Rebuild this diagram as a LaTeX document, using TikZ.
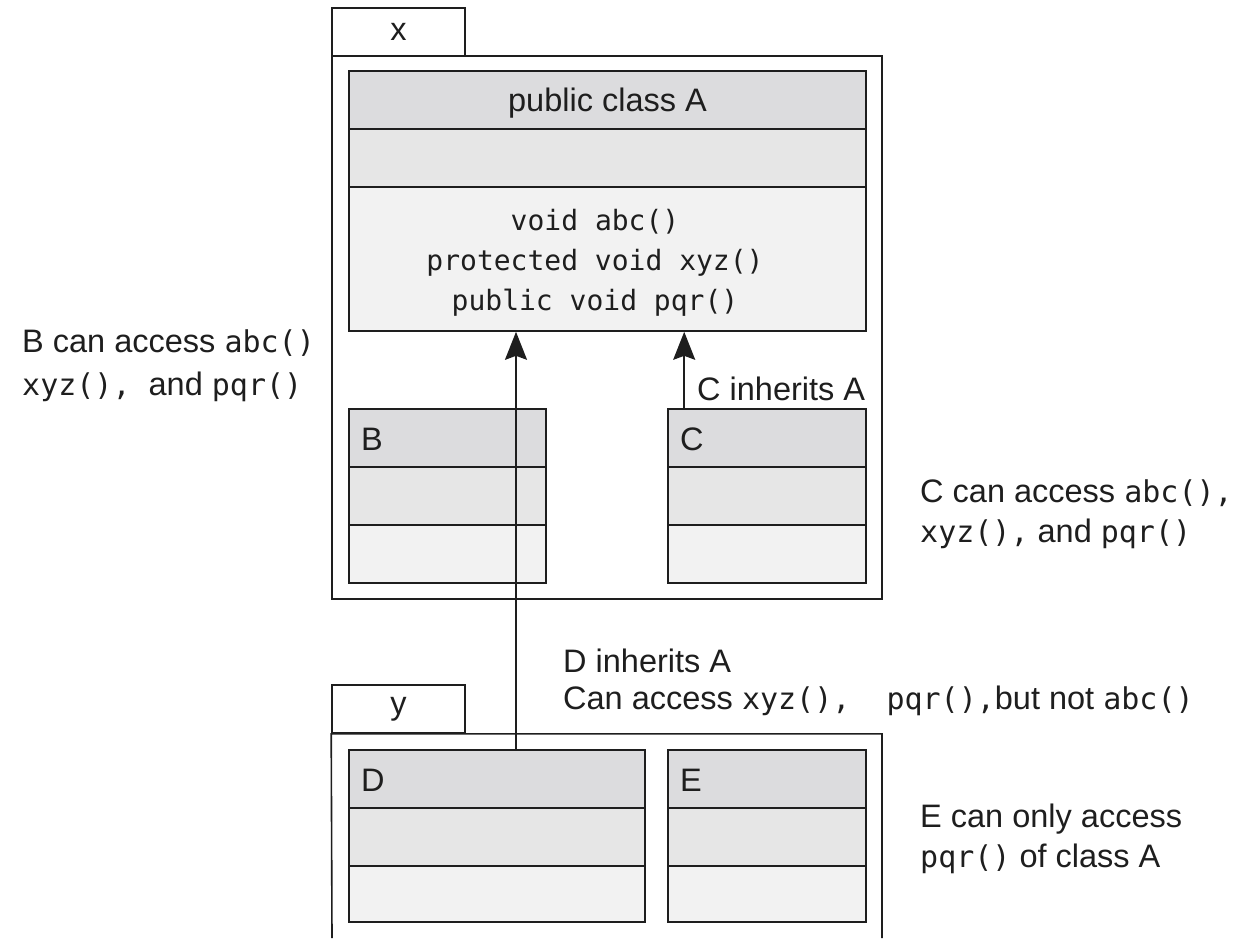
\documentclass[tikz,border=0pt]{standalone}
\usepackage{fontspec}
\setmainfont{Liberation Sans}
\setmonofont{DejaVu Sans Mono}
\usetikzlibrary{arrows.meta}
\definecolor{hdr}{RGB}{220,220,222}
\definecolor{mid}{RGB}{230,230,230}
\definecolor{low}{RGB}{242,242,242}
\definecolor{ink}{RGB}{30,30,30}
\newcommand\mtt[1]{{\fontsize{28}{34}\selectfont\ttfamily #1}}
\newcommand\mtl[1]{{\fontsize{30}{36}\selectfont\ttfamily #1}}
\begin{document}
\begin{tikzpicture}[x=1pt,y=-1pt,
  every node/.style={font=\fontsize{32.5}{40}\selectfont, text=ink},
  box/.style={draw=ink, line width=1.6pt, rectangle, inner sep=0pt},
  tabbox/.style={box, fill=white},
  pkgbox/.style={box},
  hd/.style={box, fill=hdr},
  md/.style={box, fill=mid},
  lw/.style={box, fill=low},
  lbl/.style={anchor=base west, inner sep=0pt},
  arr/.style={draw=ink, line width=1.6pt, -{Stealth[length=28pt,width=22pt,inset=4pt]}}
]
\useasboundingbox (0,0) rectangle (1246,938);

% package x
\node[tabbox, minimum width=133pt, minimum height=48pt] (tabx) at (398.5,32) {x};
\node[pkgbox, minimum width=550pt, minimum height=543pt] (pkgx) at (607,327.5) {};

% class A
\node[hd, minimum width=517pt, minimum height=58pt] (Ah) at (607.5,100) {};
\node[md, minimum width=517pt, minimum height=58pt] (Aa) at (607.5,158) {};
\node[lw, minimum width=517pt, minimum height=144pt] (Ao) at (607.5,259) {};
\node[lbl, anchor=base] (At) at (607.5,111) {public class A};
\node[anchor=base, inner sep=0pt] (Am1) at (595,230) {\mtt{void abc()}};
\node[anchor=base, inner sep=0pt] (Am2) at (595,270) {\mtt{protected void xyz()}};
\node[anchor=base, inner sep=0pt] (Am3) at (595,310) {\mtt{public void pqr()}};

% class B
\node[hd, minimum width=197pt, minimum height=58pt] (Bh) at (447.5,438) {};
\node[md, minimum width=197pt, minimum height=58pt] (Ba) at (447.5,496) {};
\node[lw, minimum width=197pt, minimum height=58pt] (Bo) at (447.5,554) {};
\node[lbl] (Bt) at (361,450) {B};

% class C
\node[hd, minimum width=198pt, minimum height=58pt] (Ch) at (767,438) {};
\node[md, minimum width=198pt, minimum height=58pt] (Ca) at (767,496) {};
\node[lw, minimum width=198pt, minimum height=58pt] (Co) at (767,554) {};
\node[lbl] (Ct) at (680,450) {C};

% package y
\node[tabbox, minimum width=133pt, minimum height=48pt] (taby) at (398.5,709) {y};
\coordinate (ybl) at (332,938);
\coordinate (ybr) at (882,938);
\draw[draw=ink, line width=1.6pt] (ybl) -- (taby.south west) -- (taby.south west -| ybr) -- (ybr);

% class D
\node[hd, minimum width=296pt, minimum height=58pt] (Dh) at (497,779) {};
\node[md, minimum width=296pt, minimum height=58pt] (Da) at (497,837) {};
\node[lw, minimum width=296pt, minimum height=56pt] (Do) at (497,894) {};
\node[lbl] (Dt) at (361,791) {D};

% class E
\node[hd, minimum width=198pt, minimum height=58pt] (Eh) at (767,779) {};
\node[md, minimum width=198pt, minimum height=58pt] (Ea) at (767,837) {};
\node[lw, minimum width=198pt, minimum height=56pt] (Eo) at (767,894) {};
\node[lbl] (Et) at (680,791) {E};

% inheritance arrows
\draw[arr] ([xshift=19pt]Dh.north) -- ([xshift=19pt]Dh.north |- Ao.south);
\draw[arr] ([xshift=17pt]Ch.north west) -- ([xshift=17pt]Ch.north west |- Ao.south);

% labels
\node[lbl] (ci) at (697,400) {C inherits A};
\node[lbl] (b1) at (22,352) {B can access \mtl{abc()}};
\node[lbl] (b2) at (22,395) {\mtl{xyz(),\ }and \mtl{pqr()}};
\node[lbl] (c1) at (920,502) {C can access \mtl{abc(),}};
\node[lbl] (c2) at (920,542) {\mtl{xyz(),} and \mtl{pqr()}};
\node[lbl] (d1) at (563,672) {D inherits A};
\node[lbl] (d2) at (563,709) {Can access \mtl{xyz(),\ \ }\mtl{pqr(),}but not \mtl{abc()}};
\node[lbl] (e1) at (920,827) {E can only access};
\node[lbl] (e2) at (920,867) {\mtl{pqr()} of class A};
\end{tikzpicture}
\end{document}
